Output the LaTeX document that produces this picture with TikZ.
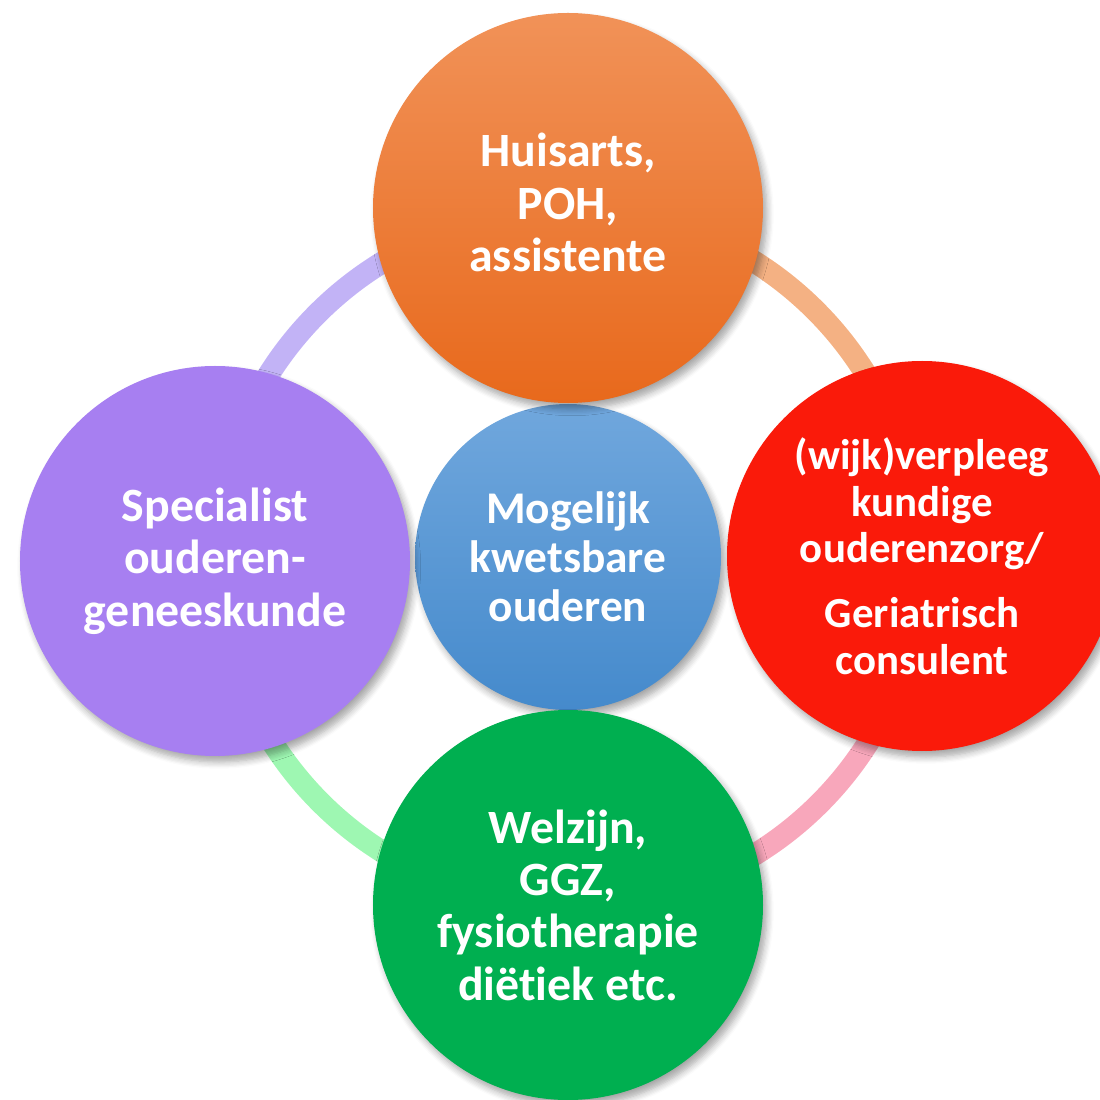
\documentclass[tikz,border=0pt]{standalone}
\usepackage{fontspec}
\setmainfont{Carlito}[Ligatures=NoCommon]
\usetikzlibrary{positioning,backgrounds,shadows.blur}

\definecolor{huistop}{HTML}{F19258}
\definecolor{huisbot}{HTML}{E8691C}
\definecolor{kernlight}{HTML}{70A7DD}
\definecolor{kerndark}{HTML}{458ACC}
\definecolor{wijkred}{HTML}{FA1A0A}
\definecolor{specpurple}{HTML}{A77FF1}
\definecolor{welzgreen}{HTML}{00AF50}
\definecolor{ringorange}{HTML}{F4B183}
\definecolor{ringpink}{HTML}{F8A7BB}
\definecolor{ringgreen}{HTML}{9EF7B2}
\definecolor{ringpurple}{HTML}{C2B3F6}

\tikzset{
  bubble/.style={circle, minimum size=3.9cm, inner sep=0pt, text=white,
    align=center, font=\bfseries\fontsize{13.6}{14.9}\selectfont,
    blur shadow={shadow xshift=0.4mm, shadow yshift=-0.6mm,
      shadow blur steps=6, shadow opacity=35}},
  kern/.style={bubble, minimum size=3.06cm,
    font=\bfseries\fontsize{12.9}{13.9}\selectfont},
  ring/.style={line width=0.22cm}
}

\begin{document}
\begin{tikzpicture}
  \useasboundingbox (-5.68,-5.43) rectangle (5.31,5.57);

  % centre and the four partners round it
  \node[kern, top color=kernlight, bottom color=kerndark] (ouderen) at (0,0)
    {Mogelijk\\kwetsbare\\ouderen};
  \node[bubble, top color=huistop, bottom color=huisbot] (huisarts) at (0,3.49)
    {Huisarts,\\POH,\\assistente\\[-0.41cm]};
  \node[bubble, fill=wijkred, font=\bfseries\fontsize{12.2}{13.3}\selectfont]
    (wijk) at (3.54,0.01)
    {(wijk)verpleeg\\kundige\\ouderenzorg/\\[0.18cm]Geriatrisch\\consulent};
  \node[bubble, fill=welzgreen] (welzijn) at (0,-3.48)
    {Welzijn,\\GGZ,\\fysiotherapie\\di\"etiek etc.};
  \node[bubble, fill=specpurple] (specialist) at (-3.53,-0.04)
    {Specialist\\ouderen-\\geneeskunde};

  % the ring behind them
  \begin{scope}[on background layer]
    \draw[ring, ringorange] (huisarts.center) arc[start angle=90, end angle=0, radius=3.5];
    \draw[ring, ringpink] (wijk.center) arc[start angle=0, end angle=-90, radius=3.5];
    \draw[ring, ringgreen] (welzijn.center) arc[start angle=-90, end angle=-180, radius=3.5];
    \draw[ring, ringpurple] (specialist.center) arc[start angle=180, end angle=90, radius=3.5];
  \end{scope}
\end{tikzpicture}
\end{document}
